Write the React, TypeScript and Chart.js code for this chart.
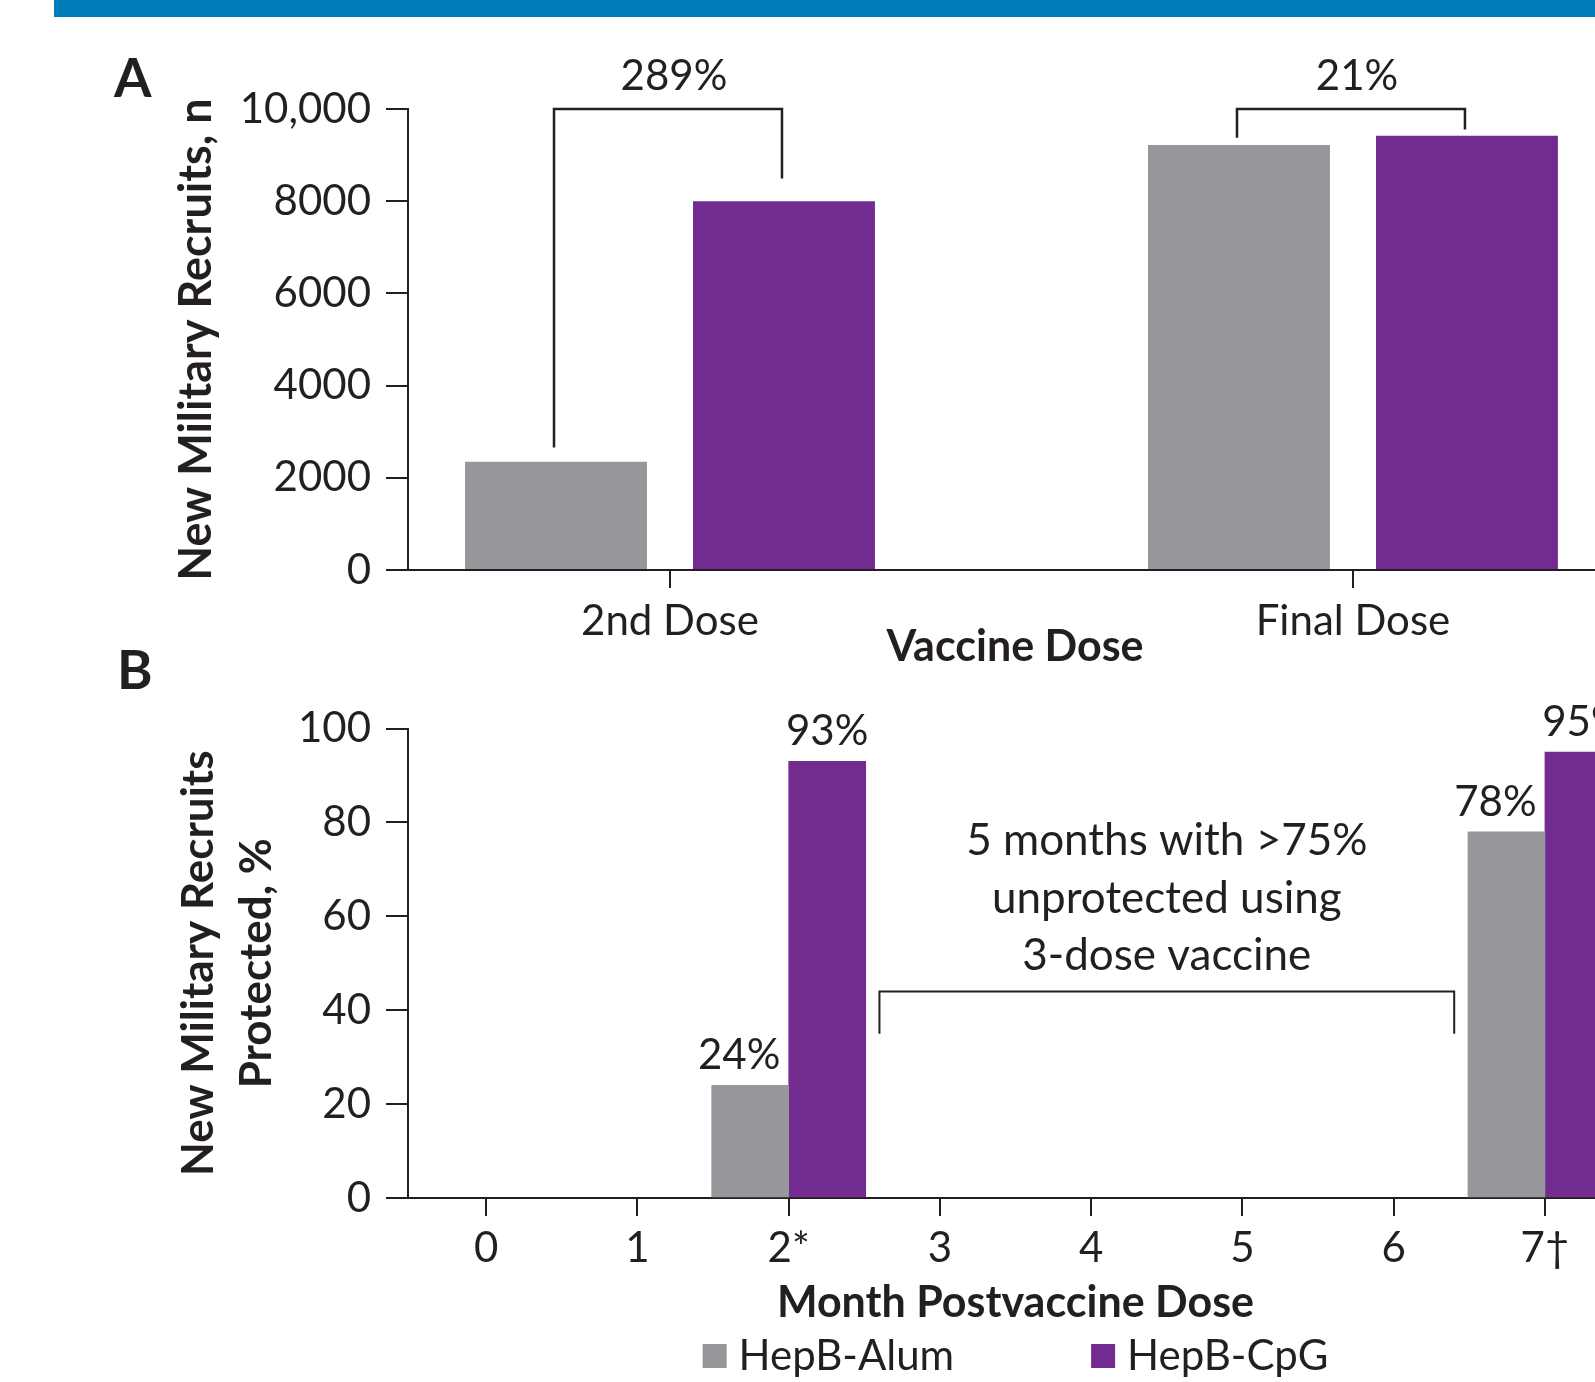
import React, { useEffect, useRef } from 'react';
import { Chart, registerables } from 'chart.js';

Chart.register(...registerables);

const FONT = 'Lato, "Open Sans", sans-serif';
const INK = '#231F20';
const GRAY = '#96979B';
const PURPLE = '#722C8F';
const BLUE = '#007CBA';

// Series
const seriesNames = ['HepB-Alum', 'HepB-CpG'];
const seriesColors = [GRAY, PURPLE];

// Panel A: new military recruits by vaccine dose
const doseCategories = ['2nd Dose', 'Final Dose'];
const doseAlum = [2350, 9220];
const doseCpG = [8000, 9420];
const doseYTicks = [0, 2000, 4000, 6000, 8000, 10000];
const doseYTickLabels = ['0', '2000', '4000', '6000', '8000', '10,000'];
const doseIncreaseLabels = ['289%', '21%'];
const doseBracketTop = [10000, 10000];
const doseBracketAlumEnd = [2655, 9375];
const doseBracketCpGEnd = [8490, 9555];

// Panel B: recruits protected by month
const months = [0, 1, 2, 3, 4, 5, 6, 7];
const monthLabels = ['0', '1', '2*', '3', '4', '5', '6', '7\u2020'];
const protectedAlum: (number | null)[] = [null, null, 24, null, null, null, null, 78];
const protectedCpG: (number | null)[] = [null, null, 93, null, null, null, null, 95];
const pctYTicks = [0, 20, 40, 60, 80, 100];
const gapNote = ['5 months with >75%', 'unprotected using', '3-dose vaccine'];
const gapBracketMonths = [2.6, 6.4];
const gapBracketTop = 44;
const gapBracketEnd = 35;
const gapNoteFirstBaseline = 73;

const font = (size: number, weight = 'normal') => `${weight} ${size}px ${FONT}`;

const panelAPlugin = {
  id: 'panelA',
  afterDatasetsDraw(chart: any) {
    const ctx = chart.ctx;
    const y = chart.scales.y;
    const mA = chart.getDatasetMeta(0);
    const mC = chart.getDatasetMeta(1);
    ctx.save();
    ctx.strokeStyle = INK;
    ctx.lineWidth = 2.5;
    ctx.fillStyle = INK;
    ctx.font = font(42);
    ctx.textAlign = 'center';
    ctx.textBaseline = 'alphabetic';
    doseCategories.forEach((_, i) => {
      const xl = mA.data[i].x - 2;
      const xr = mC.data[i].x - 2;
      const yt = y.getPixelForValue(doseBracketTop[i]);
      const yl = y.getPixelForValue(doseBracketAlumEnd[i]);
      const yr = y.getPixelForValue(doseBracketCpGEnd[i]);
      ctx.beginPath();
      ctx.moveTo(xl, yl);
      ctx.lineTo(xl, yt);
      ctx.lineTo(xr, yt);
      ctx.lineTo(xr, yr);
      ctx.stroke();
      ctx.fillText(doseIncreaseLabels[i], (xl + xr) / 2 + 6, yt - 19);
    });
    ctx.font = font(54, 'bold');
    ctx.textAlign = 'left';
    ctx.fillText('A', 114, 97);
    ctx.restore();
  },
};

const panelBPlugin = {
  id: 'panelB',
  afterDatasetsDraw(chart: any) {
    const ctx = chart.ctx;
    const { x, y } = chart.scales;
    ctx.save();
    ctx.fillStyle = INK;
    ctx.strokeStyle = INK;
    ctx.font = font(42);
    ctx.textAlign = 'center';
    ctx.textBaseline = 'alphabetic';
    chart.data.datasets.forEach((ds: any, di: number) => {
      const meta = chart.getDatasetMeta(di);
      meta.data.forEach((bar: any, j: number) => {
        const v = ds.data[j].y;
        const shift = di === 0 ? -11 : 0;
        ctx.fillText(`${v}%`, bar.x + shift, bar.y - 16);
      });
    });
    // bracket for the unprotected gap
    const xl = x.getPixelForValue(gapBracketMonths[0]);
    const xr = x.getPixelForValue(gapBracketMonths[1]);
    const yt = y.getPixelForValue(gapBracketTop);
    const ye = y.getPixelForValue(gapBracketEnd);
    ctx.lineWidth = 2;
    ctx.beginPath();
    ctx.moveTo(xl, ye);
    ctx.lineTo(xl, yt);
    ctx.lineTo(xr, yt);
    ctx.lineTo(xr, ye);
    ctx.stroke();
    ctx.font = font(44);
    const cx = (xl + xr) / 2;
    const by = y.getPixelForValue(gapNoteFirstBaseline);
    gapNote.forEach((line, k) => ctx.fillText(line, cx, by + k * 57.5));
    // panel letter
    ctx.font = font(54, 'bold');
    ctx.textAlign = 'left';
    ctx.fillText('B', 117, 49);
    ctx.restore();
  },
  afterDraw(chart: any) {
    const ctx = chart.ctx;
    const area = chart.chartArea;
    ctx.save();
    ctx.font = font(42);
    ctx.textBaseline = 'middle';
    ctx.textAlign = 'left';
    const box = 24;
    const boxGap = 12;
    const itemGap = 137;
    const widths = seriesNames.map((n) => box + boxGap + ctx.measureText(n).width);
    const total = widths.reduce((a, b) => a + b, 0) + itemGap * (widths.length - 1);
    let cx = (area.left + area.right) / 2 - total / 2;
    const cy = 716;
    seriesNames.forEach((n, i) => {
      ctx.fillStyle = seriesColors[i];
      ctx.fillRect(cx, cy - box / 2, box, box);
      ctx.fillStyle = INK;
      ctx.fillText(n, cx + box + boxGap, cy);
      cx += widths[i] + itemGap;
    });
    ctx.restore();
  },
};

const axisCommon = {
  border: { display: true, color: INK, width: 2 },
};

const tickGrid = (len: number) => ({
  display: true,
  offset: false,
  drawOnChartArea: false,
  drawTicks: true,
  tickLength: len,
  color: INK,
  lineWidth: 2,
});

function makeConfigA(): any {
  return {
    type: 'bar',
    data: {
      datasets: [
        {
          label: seriesNames[0],
          data: doseAlum.map((v, i) => ({ x: i, y: v })),
          backgroundColor: seriesColors[0],
          categoryPercentage: 0.6676,
          barPercentage: 0.798,
        },
        {
          label: seriesNames[1],
          data: doseCpG.map((v, i) => ({ x: i, y: v })),
          backgroundColor: seriesColors[1],
          categoryPercentage: 0.6676,
          barPercentage: 0.798,
        },
      ],
    },
    options: {
      responsive: false,
      animation: false,
      devicePixelRatio: 1,
      layout: { padding: { left: 0, top: 109, right: 58, bottom: 0 } },
      plugins: { legend: { display: false }, tooltip: { enabled: false } },
      scales: {
        x: {
          ...axisCommon,
          type: 'linear',
          offset: false,
          min: -0.3836,
          max: 1.3939,
          bounds: 'data',
          afterBuildTicks: (s: any) => {
            s.ticks = doseCategories.map((_, i) => ({ value: i }));
          },
          afterFit: (s: any) => {
            s.height = 120;
          },
          grid: tickGrid(18),
          ticks: {
            autoSkip: false,
            maxRotation: 0,
            padding: 8,
            color: INK,
            font: { family: FONT, size: 42 },
            callback: (v: number) => doseCategories[v],
          },
          title: {
            display: true,
            text: 'Vaccine Dose',
            color: INK,
            font: { family: FONT, size: 43, weight: 'bold' },
            padding: { top: 0, bottom: 17 },
          },
        },
        y: {
          ...axisCommon,
          min: 0,
          max: 10000,
          afterBuildTicks: (s: any) => {
            s.ticks = doseYTicks.map((v) => ({ value: v }));
          },
          afterFit: (s: any) => {
            s.width = 408;
          },
          grid: tickGrid(22),
          ticks: {
            padding: 15,
            color: INK,
            font: { family: FONT, size: 42 },
            callback: (v: number) => doseYTickLabels[doseYTicks.indexOf(v)],
          },
          title: {
            display: true,
            text: 'New Military Recruits, n',
            color: INK,
            font: { family: FONT, size: 45, weight: 'bold' },
            padding: { top: 169, bottom: 0 },
          },
        },
      },
    },
    plugins: [panelAPlugin],
  };
}

function makeConfigB(): any {
  const toPoints = (vals: (number | null)[]) =>
    months.map((m, i) => ({ x: m, y: vals[i] })).filter((p) => p.y !== null);
  return {
    type: 'bar',
    data: {
      datasets: [
        { label: seriesNames[0], data: toPoints(protectedAlum), backgroundColor: seriesColors[0], barThickness: 77 },
        { label: seriesNames[1], data: toPoints(protectedCpG), backgroundColor: seriesColors[1], barThickness: 77 },
      ],
    },
    options: {
      responsive: false,
      animation: false,
      devicePixelRatio: 1,
      layout: { padding: { left: 0, top: 88.5, right: 57, bottom: 0 } },
      plugins: { legend: { display: false }, tooltip: { enabled: false } },
      scales: {
        x: {
          ...axisCommon,
          type: 'linear',
          offset: false,
          min: -0.517,
          max: 7.516,
          bounds: 'data',
          afterBuildTicks: (s: any) => {
            s.ticks = months.map((m) => ({ value: m }));
          },
          afterFit: (s: any) => {
            s.height = 184;
          },
          grid: tickGrid(18),
          ticks: {
            autoSkip: false,
            maxRotation: 0,
            padding: 7,
            color: INK,
            font: { family: FONT, size: 42 },
            callback: (v: number) => monthLabels[months.indexOf(v)],
          },
          title: {
            display: true,
            text: 'Month Postvaccine Dose',
            color: INK,
            font: { family: FONT, size: 43, weight: 'bold' },
            padding: { top: 0, bottom: 53 },
          },
        },
        y: {
          ...axisCommon,
          min: 0,
          max: 100,
          afterBuildTicks: (s: any) => {
            s.ticks = pctYTicks.map((v) => ({ value: v }));
          },
          afterFit: (s: any) => {
            s.width = 408;
          },
          grid: tickGrid(22),
          ticks: {
            padding: 15,
            color: INK,
            font: { family: FONT, size: 42 },
            callback: (v: number) => String(v),
          },
          title: {
            display: true,
            text: ['New Military Recruits', 'Protected, %'],
            color: INK,
            font: { family: FONT, size: 44, weight: 'bold', lineHeight: '58px' },
            padding: { top: 170, bottom: 0 },
          },
        },
      },
    },
    plugins: [panelBPlugin],
  };
}

export default function App() {
  const refA = useRef<HTMLCanvasElement>(null);
  const refB = useRef<HTMLCanvasElement>(null);

  useEffect(() => {
    const a = new Chart(refA.current as HTMLCanvasElement, makeConfigA());
    const b = new Chart(refB.current as HTMLCanvasElement, makeConfigB());
    return () => {
      a.destroy();
      b.destroy();
    };
  }, []);

  return (
    <div
      style={{
        position: 'fixed',
        left: 0,
        top: 0,
        width: 1595,
        height: 1382,
        overflow: 'hidden',
        background: '#ffffff',
      }}
    >
      <div style={{ position: 'absolute', left: 54, top: 0, right: 0, height: 17, background: BLUE }} />
      <canvas
        ref={refA}
        width={1680}
        height={690}
        style={{ position: 'absolute', left: 0, top: 0, width: 1680, height: 690 }}
      />
      <canvas
        ref={refB}
        width={1680}
        height={742}
        style={{ position: 'absolute', left: 0, top: 640, width: 1680, height: 742 }}
      />
    </div>
  );
}
